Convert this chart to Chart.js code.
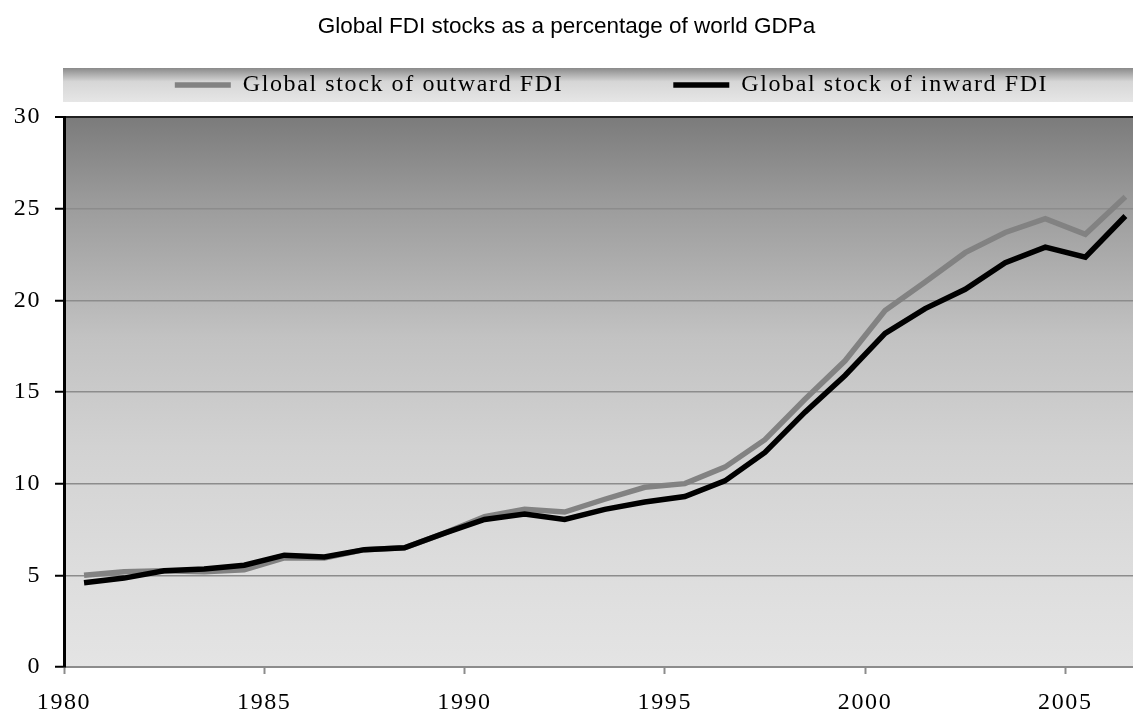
<!DOCTYPE html>
<html lang="en">
  <head>
    <meta charset="UTF-8" />
    <title>Global FDI stocks</title>
    <script src="https://cdn.jsdelivr.net/npm/chart.js"></script>
    <style>
      body {
        margin: 0;
        background: #fff;
      }
      canvas {
        display: block;
      }
    </style>
  </head>
  <body>
    <canvas id="fdiChart" width="1133" height="711"></canvas>

    <script>
      const years = [
        1980, 1981, 1982, 1983, 1984, 1985, 1986, 1987, 1988, 1989, 1990, 1991,
        1992, 1993, 1994, 1995, 1996, 1997, 1998, 1999, 2000, 2001, 2002, 2003,
        2004, 2005, 2006,
      ];
      const outwardFDI = [
        5.0, 5.2, 5.25, 5.2, 5.3, 5.95, 5.95, 6.4, 6.5, 7.3, 8.2, 8.6, 8.45,
        9.15, 9.8, 10.0, 10.9, 12.4, 14.6, 16.7, 19.45, 21.0, 22.6, 23.7, 24.45,
        23.6, 25.65,
      ];
      const inwardFDI = [
        4.6, 4.85, 5.25, 5.35, 5.55, 6.1, 6.0, 6.4, 6.5, 7.3, 8.05, 8.35, 8.05,
        8.6, 9.0, 9.3, 10.15, 11.7, 13.9, 15.9, 18.2, 19.55, 20.6, 22.05, 22.9,
        22.35, 24.6,
      ];
      const xTickYears = [1980, 1985, 1990, 1995, 2000, 2005];
      const yTickValues = [0, 5, 10, 15, 20, 25, 30];

      const SPACING = "1.6px"; // serif labels in the original are letter-spaced
      const LEGEND_PAD = 110; // gap between the two legend items
      const BAND_H = 34;
      const serif = { family: "Liberation Serif", size: 24 };

      // backgrounds, legend band and letter spacing
      const decorPlugin = {
        id: "decor",
        beforeInit(chart) {
          // title stays plain Arial, no spacing
          const title = chart.titleBlock;
          const draw = title.draw.bind(title);
          title.draw = function (area) {
            chart.ctx.letterSpacing = "0px";
            draw(area);
            chart.ctx.letterSpacing = SPACING;
          };
        },
        beforeUpdate(chart) {
          chart.ctx.letterSpacing = SPACING;
        },
        afterLayout(chart) {
          const lg = chart.legend;
          chart.$band = { top: lg.top, bottom: lg.top + BAND_H };
          // labels.padding is used for the horizontal gap, pull the row back up
          lg.top = lg.top + (BAND_H - serif.size) / 2 - LEGEND_PAD;
          // items sit a bit right of centre in the original
          lg.right = lg.right + 90;
        },
        beforeDraw(chart) {
          const { ctx, chartArea: a } = chart;
          ctx.save();
          const b = chart.$band;
          let g = ctx.createLinearGradient(0, b.top, 0, b.bottom);
          g.addColorStop(0, "#8a8a8a");
          g.addColorStop(0.4, "#d6d6d6");
          g.addColorStop(1, "#e6e6e6");
          ctx.fillStyle = g;
          ctx.fillRect(a.left - 1, b.top, chart.width - a.left + 1, BAND_H);

          g = ctx.createLinearGradient(0, a.top, 0, a.bottom);
          g.addColorStop(0, "#7b7b7b");
          g.addColorStop(0.15, "#9a9a9a");
          g.addColorStop(0.4, "#c2c2c2");
          g.addColorStop(0.6, "#d2d2d2");
          g.addColorStop(0.8, "#dcdcdc");
          g.addColorStop(1, "#e4e4e4");
          ctx.fillStyle = g;
          ctx.fillRect(a.left, a.top, a.right - a.left, a.bottom - a.top);
          ctx.restore();
          ctx.letterSpacing = SPACING;
        },
      };

      // annual values are plotted in the middle of each year
      const toPoints = (vals) => years.map((yr, i) => ({ x: yr + 0.5, y: vals[i] }));

      let ctx = document.getElementById("fdiChart");

      let chart = new Chart(ctx, {
        type: "line",
        data: {
          datasets: [
            {
              label: "Global stock of outward FDI",
              data: toPoints(outwardFDI),
              borderColor: "#828282",
              backgroundColor: "#828282",
              borderWidth: 5.5,
              pointRadius: 0,
              tension: 0,
              order: 1,
            },
            {
              label: "Global stock of inward FDI",
              data: toPoints(inwardFDI),
              borderColor: "#000",
              backgroundColor: "#000",
              borderWidth: 5.5,
              pointRadius: 0,
              tension: 0,
              order: 0,
            },
          ],
        },
        options: {
          responsive: false,
          animation: false,
          layout: { padding: 0 },
          plugins: {
            title: {
              display: true,
              text: "Global FDI stocks as a percentage of world GDPa",
              color: "#000",
              font: { family: "Liberation Sans", size: 22.5, weight: "normal" },
              padding: { top: 13, bottom: 28 },
            },
            legend: {
              display: true,
              maxHeight: 49,
              labels: {
                color: "#000",
                font: serif,
                usePointStyle: true,
                pointStyle: "line",
                pointStyleWidth: 56,
                padding: LEGEND_PAD,
                sort: (a, b) => a.datasetIndex - b.datasetIndex,
              },
            },
            tooltip: { enabled: false },
          },
          scales: {
            x: {
              type: "linear",
              min: 1980,
              max: 2006.69,
              afterBuildTicks: (axis) => {
                axis.ticks = xTickYears.map((v) => ({ value: v }));
              },
              afterFit: (scale) => {
                scale.height = 44;
              },
              ticks: {
                color: "#000",
                font: serif,
                padding: 14,
                maxRotation: 0,
                callback: (v) => String(v),
              },
              grid: {
                drawOnChartArea: false,
                tickLength: 7,
                tickColor: "#8c8c8c",
                tickWidth: 2,
              },
              border: { color: "#8c8c8c", width: 2 },
            },
            y: {
              min: 0,
              max: 30,
              afterBuildTicks: (axis) => {
                axis.ticks = yTickValues.map((v) => ({ value: v }));
              },
              afterFit: (scale) => {
                scale.width = 64;
              },
              ticks: {
                color: "#000",
                font: serif,
                padding: 14,
              },
              grid: {
                color: (c) => (c.tick && c.tick.value === 30 ? "#222" : "#8c8c8c"),
                lineWidth: (c) => (c.tick && c.tick.value === 30 ? 2 : 1.5),
                tickLength: 9,
                tickColor: "#000",
                tickWidth: 2,
              },
              border: { color: "#000", width: 3 },
            },
          },
        },
        plugins: [decorPlugin],
      });
    </script>
  </body>
</html>
